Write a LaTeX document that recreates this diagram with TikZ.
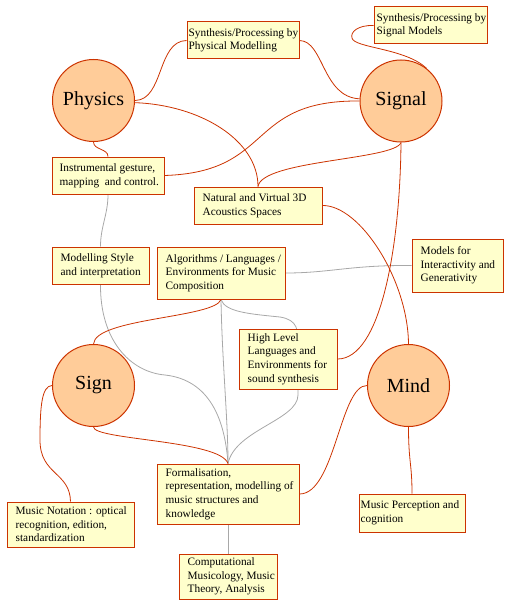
\documentclass[tikz,border=0pt]{standalone}
\usepackage{fontspec}
\setmainfont{Liberation Serif}
\usetikzlibrary{backgrounds}
\definecolor{rline}{HTML}{CC3300}
\definecolor{gline}{HTML}{A8A8A8}
\definecolor{boxfill}{HTML}{FFFFCC}
\definecolor{circfill}{HTML}{FFCC99}
\tikzset{
  topic/.style={circle, draw=rline, line width=1pt, fill=circfill, minimum size=82pt, inner sep=0pt, font=\fontsize{20}{24}\selectfont},
  box/.style={rectangle, draw=rline, line width=1pt, fill=boxfill, inner sep=0pt},
  btext/.style={align=left, inner sep=0pt, anchor=west, font=\fontsize{11.3}{13.6}\selectfont},
  rcon/.style={draw=rline, line width=0.8pt},
  gcon/.style={draw=gline, line width=0.8pt},
}
\begin{document}
\begin{tikzpicture}[x=1pt,y=-1pt]
\useasboundingbox (0,0) rectangle (514,615);
% circles
\node[topic] (phys) at (93.5,100.5) {Physics};
\node[topic] (signal) at (401,101) {Signal};
\node[topic] (sign) at (93.5,385.5) {Sign};
\node[topic] (mind) at (408.5,385.5) {Mind};
% boxes
\node[box, minimum width=112pt, minimum height=37pt] (synphys) at (243,40.5) {};
\node[btext] (synphys-t) at ([xshift=2pt]synphys.west) {Synthesis/Processing by\\Physical Modelling};
\node[box, minimum width=113pt, minimum height=37pt] (synsig) at (430.5,25.5) {};
\node[btext] (synsig-t) at ([xshift=3pt]synsig.west) {Synthesis/Processing by\\Signal Models};
\node[box, minimum width=112pt, minimum height=37pt] (instr) at (108,175.5) {};
\node[btext] (instr-t) at ([xshift=8pt]instr.west) {Instrumental gesture,\\mapping\ \ and control.};
\node[box, minimum width=128pt, minimum height=37pt] (natural) at (258,205.5) {};
\node[btext] (natural-t) at ([xshift=9pt]natural.west) {Natural and Virtual 3D\\Acoustics Spaces};
\node[box, minimum width=97pt, minimum height=37pt] (modstyle) at (100.5,265.5) {};
\node[btext] (modstyle-t) at ([xshift=9pt]modstyle.west) {Modelling Style\\and interpretation};
\node[box, minimum width=128pt, minimum height=52pt] (algo) at (221,273) {};
\node[btext] (algo-t) at ([xshift=9pt]algo.west) {Algorithms / Languages /\\Environments for Music\\Composition};
\node[box, minimum width=91pt, minimum height=53pt] (models) at (457.5,265.5) {};
\node[btext] (models-t) at ([xshift=9pt]models.west) {Models for\\Interactivity and\\Generativity};
\node[box, minimum width=98pt, minimum height=60pt] (highlevel) at (288,359) {};
\node[btext] (highlevel-t) at ([xshift=9pt]highlevel.west) {High Level\\Languages and\\Environments for\\sound synthesis};
\node[box, minimum width=142pt, minimum height=60pt] (formal) at (228,494) {};
\node[btext] (formal-t) at ([xshift=9pt]formal.west) {Formalisation,\\representation, modelling of\\music structures and\\knowledge};
\node[box, minimum width=127pt, minimum height=45pt] (notation) at (70.5,524.5) {};
\node[btext] (notation-t) at ([xshift=9pt]notation.west) {Music Notation : optical\\recognition, edition,\\standardization};
\node[box, minimum width=98pt, minimum height=45pt] (comp) at (228,576.5) {};
\node[btext] (comp-t) at ([xshift=9pt]comp.west) {Computational\\Musicology, Music\\Theory, Analysis};
\node[box, minimum width=106pt, minimum height=38pt] (percep) at (412,513) {};
\node[btext] (percep-t) at ([xshift=2pt]percep.west) {Music Perception and\\cognition};
% connectors
\begin{pgfonlayer}{background}
% grey
\draw[gcon] (instr.south) .. controls +(0,20) and +(0,-20) .. (modstyle.north);
\draw[gcon] (modstyle.south) .. controls (100,340) and (130,372) .. (165,375) .. controls (210,380) and (225,420) .. (formal.north);
\draw[gcon] (algo.south) .. controls (222,360) and (228,420) .. (formal.north);
\draw[gcon] (algo.south) .. controls (225,312) and (250,314) .. (280,317) .. controls (298,320) and (298,330) .. (298,345) -- (298,395) .. controls (298,420) and (235,430) .. (formal.north);
\draw[gcon] (algo.east) .. controls (330,273) and (350,265) .. (models.west);
\draw[gcon] (formal.south) -- (comp.north);
% red
\draw[rcon] (phys.east) .. controls (164,100) and (157,41) .. (synphys.west);
\draw[rcon] (synphys.east) .. controls (324,41) and (322,97) .. (signal.177);
\draw[rcon] (synsig.west) .. controls (358,25) and (350,32) .. (352,38) .. controls (354,48) and (405,48) .. (signal.52);
\draw[rcon] (phys.-3) .. controls (200,105) and (258,140) .. (natural.north);
\draw[rcon] (instr.east) .. controls (275,172) and (245,100) .. (signal.180);
\draw[rcon] (phys.south) .. controls +(0,8) and +(0,-8) .. (instr.north);
\draw[rcon] (signal.south) .. controls (395,160) and (262,160) .. (natural.north);
\draw[rcon] (signal.south) .. controls (400,250) and (380,359) .. (highlevel.east);
\draw[rcon] (natural.east) .. controls (360,205) and (408,280) .. (mind.north);
\draw[rcon] (algo.south) .. controls (215,318) and (95,318) .. (sign.north);
\draw[rcon] (sign.west) .. controls (42,386) and (40,405) .. (40,440) .. controls (40,475) and (70,472) .. (notation.north);
\draw[rcon] (sign.south) .. controls (94,440) and (220,440) .. (formal.north);
\draw[rcon] (mind.west) .. controls (340,385) and (335,494) .. (formal.east);
\draw[rcon] (mind.south) .. controls +(0,35) and +(0,-30) .. (percep.north);
\end{pgfonlayer}
\end{tikzpicture}
\end{document}
